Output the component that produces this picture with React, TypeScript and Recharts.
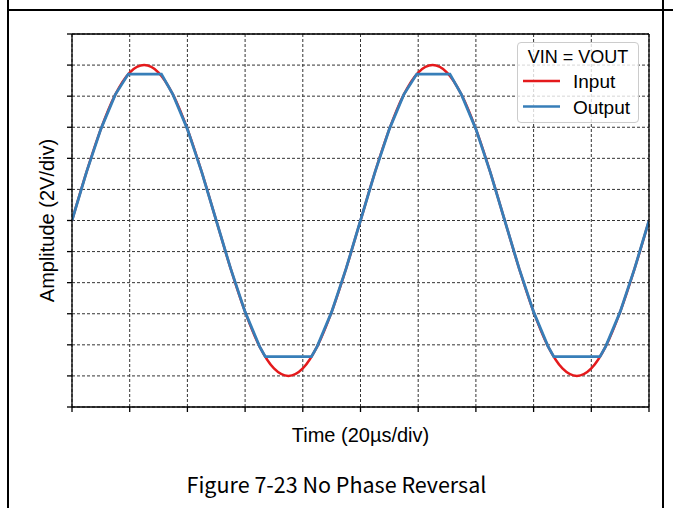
import React from "react";
import { LineChart, Line, XAxis, YAxis, CartesianGrid, Legend } from "recharts";

// time axis: 20us per division, 10 divisions
const timeTicks = [0, 20, 40, 60, 80, 100, 120, 140, 160, 180, 200];
// amplitude axis: 2V per division, 12 divisions
const ampTicks = [-6, -5, -4, -3, -2, -1, 0, 1, 2, 3, 4, 5, 6];

// input sine (divisions), read every 5us
const inputTime = [
  0, 5, 10, 15, 20, 25, 30, 35, 40, 45, 50, 55, 60, 65, 70, 75, 80, 85, 90, 95, 100,
  105, 110, 115, 120, 125, 130, 135, 140, 145, 150, 155, 160, 165, 170, 175, 180, 185, 190, 195, 200,
];
const inputVolts = [
  0, 1.55, 2.94, 4.05, 4.76, 5.0, 4.76, 4.05, 2.94, 1.55, 0, -1.55, -2.94, -4.05, -4.76, -5.0, -4.76, -4.05, -2.94, -1.55, 0,
  1.55, 2.94, 4.05, 4.76, 5.0, 4.76, 4.05, 2.94, 1.55, 0, -1.55, -2.94, -4.05, -4.76, -5.0, -4.76, -4.05, -2.94, -1.55, 0,
];

// output follows input but clips near the rails
const outputTime = [
  0, 5, 10, 15, 19.5, 31, 35, 40, 45, 50, 55, 60, 65, 67, 83, 85, 90, 95, 100,
  105, 110, 115, 119.5, 131, 135, 140, 145, 150, 155, 160, 165, 167, 183, 185, 190, 195, 200,
];
const outputVolts = [
  0, 1.55, 2.94, 4.05, 4.71, 4.71, 4.05, 2.94, 1.55, 0, -1.55, -2.94, -4.05, -4.38, -4.38, -4.05, -2.94, -1.55, 0,
  1.55, 2.94, 4.05, 4.71, 4.71, 4.05, 2.94, 1.55, 0, -1.55, -2.94, -4.05, -4.38, -4.38, -4.05, -2.94, -1.55, 0,
];

const inputData = inputTime.map((t, i) => ({ t, v: inputVolts[i] }));
const outputData = outputTime.map((t, i) => ({ t, v: outputVolts[i] }));

const RED = "#e41a1c";
const BLUE = "#377eb8";
const SANS = "'Liberation Sans', Arial, sans-serif";

// no tick labels, only the tick marks
const NoLabel = () => <g />;

const ScopeLegend = (props: any) => {
  const payload = props.payload || [];
  return (
    <div
      style={{
        width: 122,
        height: 81,
        boxSizing: "border-box",
        border: "1px solid #cccccc",
        borderRadius: 4,
        background: "rgba(255,255,255,0.8)",
      }}
    >
      <svg width={120} height={79} style={{ display: "block" }}>
        <text x={60} y={19.5} textAnchor="middle" fontSize={18} fontFamily={SANS} fill="#000">
          VIN = VOUT
        </text>
        {payload.map((p: any, i: number) => (
          <g key={p.value}>
            <line x1={5} x2={42} y1={38 + i * 25.5} y2={38 + i * 25.5} stroke={p.color} strokeWidth={2.4} />
            <text x={55} y={45 + i * 25.5} fontSize={19} fontFamily={SANS} fill="#000">
              {p.value}
            </text>
          </g>
        ))}
      </svg>
    </div>
  );
};

export default function App() {
  return (
    <div style={{ position: "absolute", left: 0, top: 0, width: 673, height: 508, background: "#fff" }}>
      <LineChart
        width={673}
        height={508}
        margin={{ top: 30, right: 14, bottom: 81, left: 52 }}
      >
        <CartesianGrid stroke="#333" strokeDasharray="3 2" strokeWidth={1} />
        <XAxis
          dataKey="t"
          type="number"
          domain={[0, 200]}
          ticks={timeTicks}
          interval={0}
          allowDataOverflow
          height={20}
          tick={NoLabel}
          tickSize={5}
          tickLine={{ stroke: "#000", strokeWidth: 1.3 }}
          axisLine={{ stroke: "#000", strokeWidth: 1.3 }}
          label={{
            value: "Time (20\u00b5s/div)",
            position: "bottom",
            offset: 1,
            fill: "#000",
            fontSize: 20,
            fontFamily: SANS,
          }}
        />
        <XAxis
          xAxisId="top"
          orientation="top"
          dataKey="t"
          type="number"
          domain={[0, 200]}
          ticks={timeTicks}
          height={4}
          tick={false}
          tickLine={false}
          axisLine={{ stroke: "#000", strokeWidth: 1.3 }}
        />
        <YAxis
          type="number"
          domain={[-6, 6]}
          ticks={ampTicks}
          interval={0}
          allowDataOverflow
          width={20}
          tick={NoLabel}
          tickSize={5}
          tickLine={{ stroke: "#000", strokeWidth: 1.3 }}
          axisLine={{ stroke: "#000", strokeWidth: 1.3 }}
          label={{
            value: "Amplitude (2V/div)",
            position: "left",
            angle: -90,
            offset: 5,
            fill: "#000",
            fontSize: 20,
            fontFamily: SANS,
            style: { textAnchor: "middle" },
          }}
        />
        <YAxis
          yAxisId="right"
          orientation="right"
          type="number"
          domain={[-6, 6]}
          ticks={ampTicks}
          interval={0}
          width={10}
          tick={NoLabel}
          tickSize={5}
          tickLine={{ stroke: "#000", strokeWidth: 1.3 }}
          axisLine={{ stroke: "#000", strokeWidth: 1.3 }}
        />
        <Legend
          layout="vertical"
          align="center"
          verticalAlign="middle"
          content={ScopeLegend}
          wrapperStyle={{ left: 517, top: 42, width: 122, height: 81 }}
        />
        <Line
          data={inputData}
          dataKey="v"
          name="Input"
          type="monotone"
          stroke={RED}
          strokeWidth={2.5}
          dot={false}
          isAnimationActive={false}
        />
        <Line
          data={outputData}
          dataKey="v"
          name="Output"
          type="linear"
          stroke={BLUE}
          strokeWidth={2.8}
          dot={false}
          isAnimationActive={false}
        />
      </LineChart>
      <svg
        width={673}
        height={508}
        style={{ position: "absolute", left: 0, top: 0, pointerEvents: "none" }}
      >
        <line x1={8} x2={8} y1={0} y2={508} stroke="#000" strokeWidth={2} />
        <line x1={663} x2={663} y1={0} y2={508} stroke="#000" strokeWidth={2} />
        <line x1={7} x2={673} y1={10} y2={10} stroke="#000" strokeWidth={2} />
        <text
          x={336.5}
          y={493}
          textAnchor="middle"
          fontSize={21.5}
          fontFamily="'Noto Sans CJK SC', 'Noto Sans', sans-serif"
          fill="#000"
        >
          Figure 7-23 No Phase Reversal
        </text>
      </svg>
    </div>
  );
}
